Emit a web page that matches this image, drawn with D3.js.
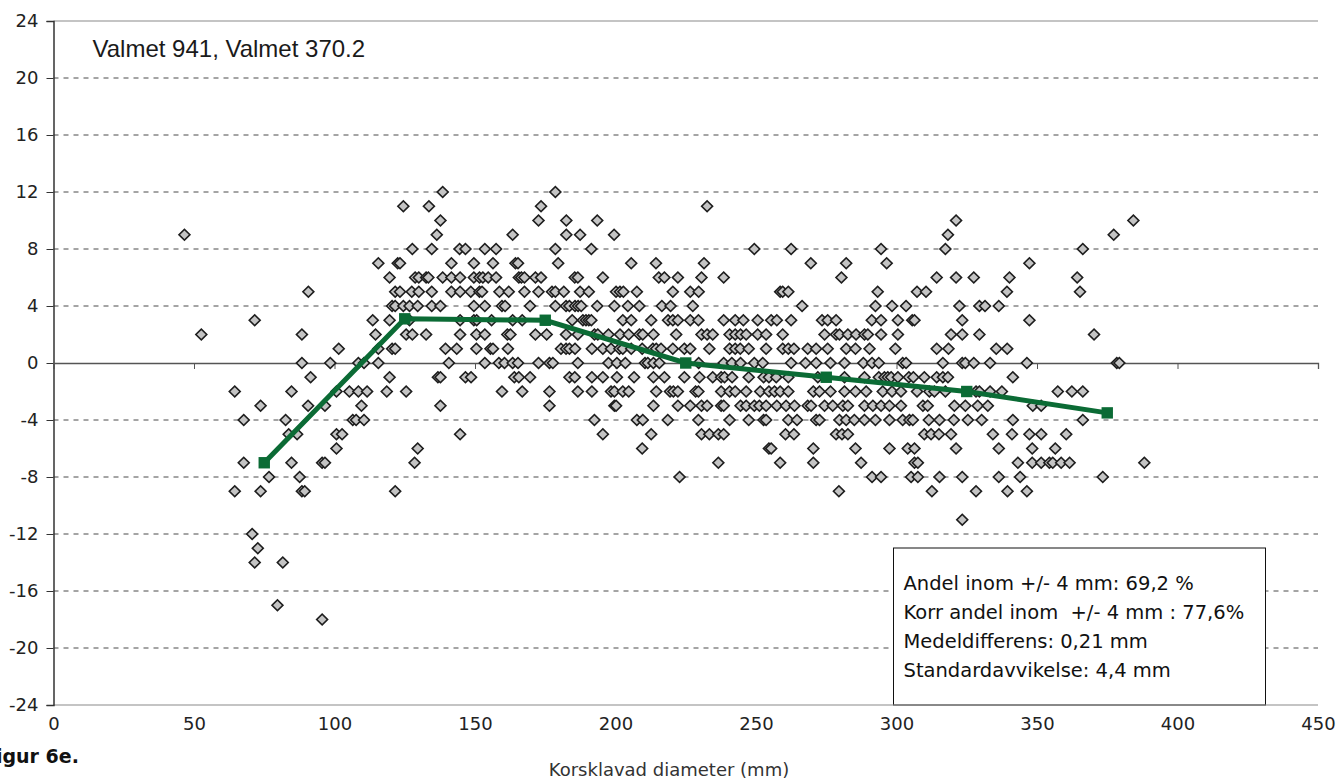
<!DOCTYPE html>
<html>
<head>
<meta charset="utf-8">
<script src="https://cdn.jsdelivr.net/npm/d3@7"></script>
<style>
  body { margin: 0; background: #fff; }
  svg { display: block; font-family: "DejaVu Sans", sans-serif; }
</style>
</head>
<body>
<svg id="chart"></svg>
<script>
// differens (mm) per rad, och uppmätta diametrar (mm) på den raden
const diffLevels = [12, 11, 10, 9, 8, 7, 6, 5, 4, 3, 2, 1, 0, -1, -2, -3, -4, -5, -6, -7, -8, -9, -11, -12, -13, -14, -17, -18];
const diametersAtLevel = [
  [138.5, 178.6],
  [124.5, 133.6, 173.5, 232.6],
  [137.7, 172.6, 182.5, 193.5, 321.2, 384.3],
  [46.6, 136.4, 163.4, 182.5, 187.4, 199.5, 318.3, 377.3],
  [127.7, 134.6, 144.5, 146.6, 153.5, 157.5, 178.6, 191.4, 249.4, 262.5, 294.5, 317.4, 366.3],
  [115.6, 122.5, 123.3, 141.6, 149.6, 156.4, 164.4, 165.3, 179.6, 205.6, 214.4, 231.5, 269.5, 282.1, 296.5, 347.3],
  [119.6, 128.7, 130, 132.6, 133.4, 138.5, 141.6, 144.7, 149.6, 151.6, 152.8, 154.7, 157.5, 165.6, 166.5, 167.6, 171.5, 173.5, 185.5, 186.6, 195.5, 215.4, 217.4, 222.2, 230.6, 238.5, 280.4, 314.3, 321.2, 327.5, 340.2, 364.3],
  [90.7, 121.6, 123.3, 127.5, 130, 134.6, 141.6, 144.7, 148.5, 151.6, 152.5, 158.7, 162, 167.6, 172.6, 177.4, 178.6, 181.6, 187.4, 190.5, 200.2, 201.6, 202.8, 207.6, 220.4, 226.6, 229.6, 258.6, 259.5, 261.5, 293.3, 307.3, 310.5, 339.3, 365.3],
  [120.5, 121.6, 124.5, 126.7, 129.6, 134.6, 137.7, 149.6, 153.5, 159.6, 160.7, 169.6, 178.6, 182.4, 183.6, 185.6, 186.7, 187.8, 193.5, 199.6, 204.4, 208.5, 216.5, 219.6, 227.5, 266.4, 292.5, 298.4, 303.4, 322.4, 329.5, 331.5, 336.4],
  [71.6, 113.6, 119.6, 126.7, 144.7, 149.6, 150.6, 155.9, 163.4, 166.8, 184.6, 188.4, 189.5, 190.5, 191.4, 202.6, 205.6, 212.7, 218.7, 220.4, 222.2, 226.6, 229.5, 238.5, 242.6, 245.5, 250.6, 255.4, 257.4, 262.5, 273.5, 275.5, 278.5, 291.2, 294.5, 300.5, 305.6, 306.4, 323.4, 347.3],
  [52.6, 88.4, 114.6, 125.5, 127.7, 132.6, 144.7, 150.5, 153.5, 161.5, 162.6, 171.5, 175.5, 182.4, 186.6, 192.5, 193.7, 197.5, 201.6, 204.7, 208.5, 209.7, 213.5, 221.6, 230.6, 232.6, 234.6, 240.6, 242.6, 244.5, 246.5, 250.6, 253.6, 259.5, 274.4, 278.5, 279.7, 282.7, 285.6, 288.6, 289.8, 294.5, 300.5, 319.4, 323.4, 329.5, 370.3],
  [101.5, 115.6, 120.5, 121.6, 139.5, 143.5, 150.5, 155.5, 156.4, 161.7, 180.6, 182.4, 183.6, 185.6, 191.6, 195.5, 198.4, 201.4, 202.6, 205.6, 209.5, 213.3, 214.5, 216.2, 220.4, 224.5, 226.6, 233.4, 240.6, 242.6, 244.4, 247.4, 253.6, 259.5, 261.5, 263.5, 268.4, 271.4, 275.5, 282.1, 285.4, 290.4, 299.6, 314.3, 318.5, 335.5, 339.4],
  [88.4, 98.5, 108.5, 110.5, 115.6, 140.7, 153.5, 158.5, 160.5, 163.4, 165.3, 172.6, 176.5, 177.7, 186.6, 197.5, 200.5, 203.5, 210.5, 211.5, 213.5, 215.6, 229.6, 238.5, 241.4, 244.5, 249.4, 252.4, 262.5, 267.6, 271.4, 276.5, 281.5, 288.2, 291.3, 293.7, 302.2, 303.4, 316.5, 323.4, 324.5, 327.5, 333.3, 346.4, 378.4, 379.3],
  [91.5, 119.6, 136.8, 137.7, 146.6, 148.6, 164, 165.6, 169.6, 183.6, 185.5, 191.6, 195.5, 200.5, 206.6, 213.5, 217.4, 224.5, 229.9, 234.6, 237.6, 238.8, 241.5, 247.4, 252.7, 254.6, 257.2, 261.5, 272, 281.5, 288.6, 293.7, 295.7, 296.9, 298.1, 300.5, 304.4, 306, 309.9, 314.3, 316.5, 318.3, 341.4],
  [64.5, 84.7, 100.7, 105.3, 108.5, 111.6, 118.6, 125.5, 159.6, 166.8, 176.5, 186.6, 191.6, 198.4, 199.6, 202.6, 204.7, 214.5, 219.4, 220.6, 222.2, 228.5, 229.5, 237.6, 240.6, 242.6, 246.5, 251.5, 254.6, 256.6, 258.6, 261.5, 270.4, 272.6, 276.5, 281.5, 285.4, 289.2, 295.1, 298.4, 301.6, 307.3, 311.7, 313.5, 317.4, 328.3, 329.5, 333.3, 337.5, 357.4, 362.4, 366.3],
  [73.7, 90.6, 96.6, 109.6, 137.7, 176.5, 199.6, 200.2, 213.5, 222.2, 226.6, 230.6, 232.6, 237.6, 238.5, 244.5, 246.5, 249.4, 251.2, 253.6, 257.4, 260.7, 263.7, 268.4, 269.6, 274.4, 277.3, 280.9, 282.7, 288.6, 291.6, 294.5, 297.5, 301.6, 309.4, 311.1, 320.6, 324.5, 328.9, 332.5, 348.5, 351.5],
  [67.7, 82.6, 106.5, 107.7, 110.5, 192.5, 207.6, 209.7, 218.6, 229.5, 240.6, 247.4, 252.7, 253.6, 261.5, 264.6, 271.4, 272.6, 279.7, 282.1, 285, 288.6, 292.5, 297.5, 302.2, 304.6, 305.8, 311.5, 315.3, 320.4, 325.4, 330.3, 341.4, 366.3],
  [83.7, 86.7, 100.7, 102.7, 144.7, 195.5, 212.7, 230.6, 233.4, 236.6, 238.5, 260.5, 263.5, 278.5, 280.6, 282.7, 309.9, 312.3, 315.1, 319.4, 334.3, 341.1, 347.3, 351.5, 360.4],
  [100.7, 129.6, 209.5, 254.6, 255.4, 270.4, 285.4, 297.5, 304, 306.4, 321.2, 336.4, 348.3, 356.5],
  [67.7, 84.7, 95.6, 96.6, 128.5, 236.6, 258.6, 270.4, 287.4, 306.4, 307.6, 343.2, 348.3, 351.5, 354.4, 355.6, 358.6, 361.6, 388.2],
  [76.7, 87.6, 222.8, 291.3, 294.5, 305.2, 307.6, 315.3, 323.4, 336.4, 344, 373.4],
  [64.5, 73.7, 88.4, 89.4, 121.6, 279.5, 312.6, 328.3, 339.5, 346.4],
  [323.4],
  [70.7],
  [72.7],
  [71.6, 81.6],
  [79.7],
  [95.6]
];

// medelvärde per diameterklass
const classMid = [75, 125, 175, 225, 275, 325, 375];
const classMean = [-7, 3.1, 3.0, 0, -1, -2, -3.5];

const xTicks = [0, 50, 100, 150, 200, 250, 300, 350, 400, 450];
const yTicks = [-24, -20, -16, -12, -8, -4, 0, 4, 8, 12, 16, 20, 24];

const chartTitle = "Valmet 941, Valmet 370.2";
const xLabel = "Korsklavad diameter (mm)";
const figLabel = "Figur 6e.";
const statsLines = [
  "Andel inom +/- 4 mm: 69,2 %",
  "Korr andel inom  +/- 4 mm : 77,6%",
  "Medeldifferens: 0,21 mm",
  "Standardavvikelse: 4,4 mm"
];

class DiffScatter {

    constructor( config, data ) {
        this.config = {
            parent: config.parent,
            width: config.width || 1337,
            height: config.height || 781,
            margin: config.margin || {top:21, right:19, bottom:76, left:53.5}
        }
        this.data = data;
        this.init();
    }

    init() {
        let self = this;

        self.svg = d3.select( self.config.parent )
            .attr('width', self.config.width)
            .attr('height', self.config.height);

        self.chart = self.svg.append('g')
            .attr('transform', `translate(${self.config.margin.left}, ${self.config.margin.top})`);

        self.inner_width = self.config.width - self.config.margin.left - self.config.margin.right;
        self.inner_height = self.config.height - self.config.margin.top - self.config.margin.bottom;

        self.xscale = d3.scaleLinear()
            .domain([0, 450])
            .range([0, self.inner_width]);

        self.yscale = d3.scaleLinear()
            .domain([-24, 24])
            .range([self.inner_height, 0]);
    }

    update() {
        let self = this;
        self.points = self.data.levels.flatMap((lv, i) => self.data.diameters[i].map(x => ({x: x, y: lv})));
        self.means = self.data.mid.map((m, i) => ({x: m, y: self.data.mean[i]}));
        self.render();
    }

    render() {
        let self = this;
        const W = self.inner_width, H = self.inner_height;

        // stödlinjer
        self.chart.selectAll(".grid")
            .data(yTicks.filter(t => t != 0 && Math.abs(t) != 24))
            .join("line")
            .attr("class", "grid")
            .attr("x1", 0).attr("x2", W)
            .attr("y1", d => self.yscale(d)).attr("y2", d => self.yscale(d))
            .style("stroke", "#4a4a4a")
            .style("stroke-width", 1)
            .style("stroke-dasharray", "5,5");

        // statistikruta (ligger på nedre kanten)
        const box = self.chart.append("g").attr("transform", `translate(840, 527)`);
        box.append("rect")
            .attr("width", 372).attr("height", H - 527)
            .style("fill", "#fff").style("stroke", "#111").style("stroke-width", 1);
        box.selectAll("text")
            .data(statsLines)
            .join("text")
            .attr("x", 10)
            .attr("y", (d, i) => 42 + i * 29)
            .style("font-size", "19.5px")
            .style("white-space", "pre")
            .style("fill", "#111")
            .text(d => d);

        // ram upptill och nedtill
        [24, -24].forEach(v => {
            self.chart.append("line")
                .attr("x1", 0).attr("x2", W)
                .attr("y1", self.yscale(v)).attr("y2", self.yscale(v))
                .style("stroke", "#8a8a8a").style("stroke-width", 1.2);
        });

        // y-axel
        const yAxis = self.chart.append("g")
            .call(d3.axisLeft(self.yscale).tickValues(yTicks).tickSize(7).tickPadding(8).tickFormat(d => String(d)));
        yAxis.select(".domain").style("stroke", "#333").style("stroke-width", 1.5);
        yAxis.selectAll(".tick line").style("stroke", "#333");
        yAxis.selectAll("text").style("font-size", "18px").style("font-family", "DejaVu Sans").style("fill", "#222");

        // x-axel vid 0
        const xAxis0 = self.chart.append("g")
            .attr("transform", `translate(0, ${self.yscale(0)})`)
            .call(d3.axisBottom(self.xscale).tickValues(xTicks).tickSize(6).tickFormat(""));
        xAxis0.select(".domain").style("stroke", "#555").style("stroke-width", 1.3);
        xAxis0.selectAll(".tick line").style("stroke", "#555");

        // x-etiketter nedtill
        const xAxisLow = self.chart.append("g")
            .attr("transform", `translate(0, ${H})`)
            .call(d3.axisBottom(self.xscale).tickValues(xTicks).tickSize(0).tickPadding(12));
        xAxisLow.select(".domain").remove();
        xAxisLow.selectAll("text").style("font-size", "18px").style("font-family", "DejaVu Sans").style("fill", "#222");

        // mätpunkter
        const diamond = d3.symbol().type(d3.symbolSquare).size(60);
        self.chart.selectAll(".pt")
            .data(self.points)
            .join("path")
            .attr("class", "pt")
            .attr("d", diamond)
            .attr("transform", d => `translate(${self.xscale(d.x)}, ${self.yscale(d.y)}) rotate(45)`)
            .style("fill", "#c4c4c4")
            .style("stroke", "#1e1e1e")
            .style("stroke-width", 1.6);

        // medelkurva
        self.chart.append("path")
            .datum(self.means)
            .attr("d", d3.line().x(d => self.xscale(d.x)).y(d => self.yscale(d.y)))
            .style("fill", "none")
            .style("stroke", "#0b6b35")
            .style("stroke-width", 5);

        self.chart.selectAll(".mean")
            .data(self.means)
            .join("path")
            .attr("class", "mean")
            .attr("d", d3.symbol().type(d3.symbolSquare).size(130))
            .attr("transform", d => `translate(${self.xscale(d.x)}, ${self.yscale(d.y)})`)
            .style("fill", "#0b6b35");

        // rubrik
        self.chart.append("text")
            .attr("x", 39).attr("y", 36)
            .style("font-family", "Liberation Sans")
            .style("font-size", "24px")
            .style("fill", "#1a1a1a")
            .text(chartTitle);

        // axeltitel och figurnummer
        self.svg.append("text")
            .attr("x", 669).attr("y", 776)
            .attr("text-anchor", "middle")
            .style("font-size", "18px")
            .style("fill", "#333")
            .text(xLabel);

        self.svg.append("text")
            .attr("x", -17).attr("y", 763)
            .style("font-size", "19px")
            .style("font-weight", "bold")
            .style("fill", "#111")
            .text(figLabel);
    }
}

const plot = new DiffScatter({ parent: "#chart", width: 1337, height: 781 },
    { levels: diffLevels, diameters: diametersAtLevel, mid: classMid, mean: classMean });
plot.update();
</script>
</body>
</html>
